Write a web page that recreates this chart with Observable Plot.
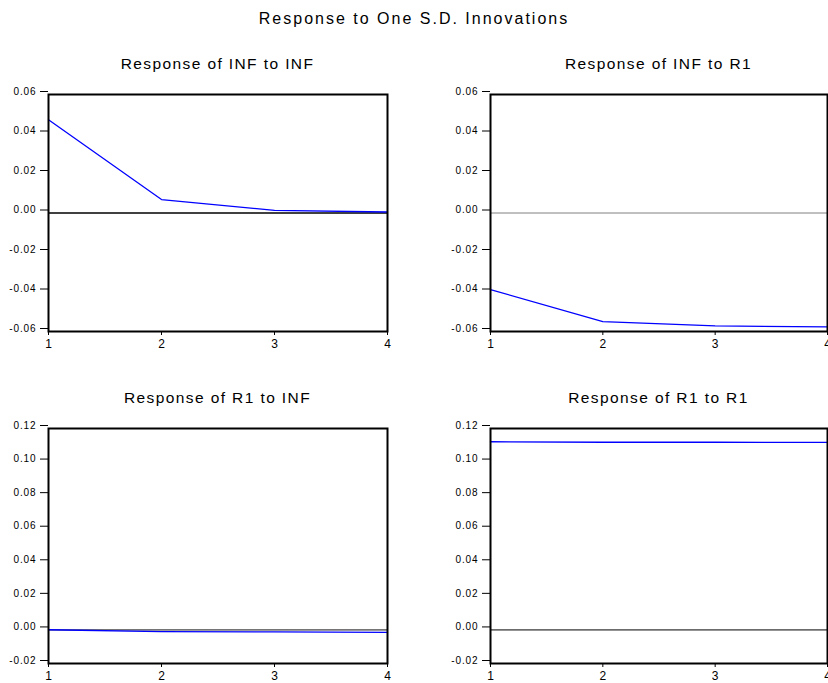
<!DOCTYPE html>
<html>
<head>
<meta charset="utf-8">
<script src="https://cdn.jsdelivr.net/npm/d3@7"></script>
<script src="https://cdn.jsdelivr.net/npm/@observablehq/plot@0.6"></script>
<style>
  html, body { margin: 0; padding: 0; background: #fff; }
  #root { position: relative; width: 828px; height: 683px; overflow: hidden; font-family: "Liberation Sans", Arial, sans-serif; }
  .panel { position: absolute; }
  .panel g[aria-label="y-axis tick label"] text { letter-spacing: 0.9px; }
  .ttl { position: absolute; text-align: center; white-space: nowrap; color: #000; }
  .main { font-size: 16px; letter-spacing: 2px; }
  .sub { font-size: 15.5px; letter-spacing: 1.4px; }
</style>
</head>
<body>
<div id="root"></div>
<script>
// Data
const horizon = [1, 2, 3, 4];
const infToInf = [0.0472, 0.0068, 0.0013, 0.0005];
const infToR1 = [-0.0388, -0.0550, -0.0572, -0.0577];
const r1ToInf = [0.0001, -0.0010, -0.0012, -0.0014];
const r1ToR1 = [0.1121, 0.1118, 0.1118, 0.1117];
const mainTitle = "Response to One S.D. Innovations";
const panelTitles = ["Response of INF to INF", "Response of INF to R1", "Response of R1 to INF", "Response of R1 to R1"];
const yTicksTop = [-0.06, -0.04, -0.02, 0.00, 0.02, 0.04, 0.06];
const yTicksBottom = [-0.02, 0.00, 0.02, 0.04, 0.06, 0.08, 0.10, 0.12];

const root = document.getElementById("root");

function addTitle(text, cls, cx, top) {
  const d = document.createElement("div");
  d.className = "ttl " + cls;
  d.textContent = text;
  d.style.left = (cx - 300) + "px";
  d.style.width = "600px";
  d.style.top = top + "px";
  root.appendChild(d);
}

function panel(values, yDomain, yTicks, zeroColor, zeroWidth, left, top, height, mL, mR, mT, mB) {
  const data = horizon.map((h, i) => ({h, v: values[i]}));
  const fmt = d => d.toFixed(2);
  const p = Plot.plot({
    width: 414, height, marginLeft: mL, marginRight: mR, marginTop: mT, marginBottom: mB,
    style: {fontFamily: "Liberation Sans, Arial, sans-serif", fontSize: "10px", background: "transparent", overflow: "visible"},
    x: {domain: [1, 4]},
    y: {domain: yDomain},
    marks: [
      Plot.ruleY([0], {stroke: zeroColor, strokeWidth: zeroWidth}),
      Plot.line(data, {x: "h", y: "v", stroke: "#0000ff", strokeWidth: 1.3}),
      Plot.frame({stroke: "#000", strokeWidth: 2}),
      Plot.axisY({ticks: yTicks, tickFormat: fmt, label: null, tickSize: 8, tickPadding: 4, dy: -3, fontSize: 10, stroke: "#000", fill: "#000"}),
      Plot.axisX({ticks: horizon, tickFormat: d => String(d), label: null, tickSize: 4, tickPadding: 4, fontSize: 12, stroke: "#000", fill: "#000"})
    ]
  });
  p.classList.add("panel");
  p.style.left = left + "px";
  p.style.top = top + "px";
  p.style.maxWidth = "none";
  root.appendChild(p);
}

addTitle(mainTitle, "main", 414, 10);

// frames: TL x48-387 y94-331; TR x490-827; bottom y428-663
addTitle(panelTitles[0], "sub", 217.5, 55);
addTitle(panelTitles[1], "sub", 658.5, 55);
addTitle(panelTitles[2], "sub", 217.5, 389);
addTitle(panelTitles[3], "sub", 658.5, 389);

panel(infToInf, [-0.06, 0.06], yTicksTop, "#000", 1.3, 0, 80, 280, 48, 27, 14, 29);
panel(infToR1, [-0.06, 0.06], yTicksTop, "#808080", 1, 414, 80, 280, 76, 1, 14, 29);
panel(r1ToInf, [-0.02, 0.12], yTicksBottom, "#111", 1, 0, 414, 269, 48, 27, 14, 20);
panel(r1ToR1, [-0.02, 0.12], yTicksBottom, "#000", 1, 414, 414, 268, 76, 1, 14, 19);
</script>
</body>
</html>
